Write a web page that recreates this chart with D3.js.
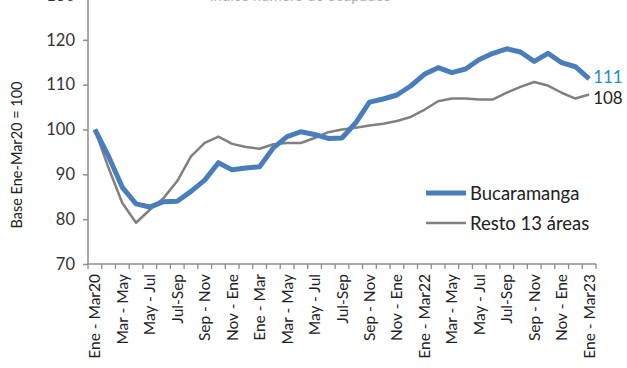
<!DOCTYPE html>
<html><head><meta charset="utf-8">
<script src="https://cdn.jsdelivr.net/npm/d3@7/dist/d3.min.js"></script>
<style>body{margin:0;background:#fff}svg{display:block}text{font-family:Lato,"Open Sans",sans-serif}</style>
</head><body><svg id="c" width="627" height="368"></svg>
<script>
const categories = ["Ene - Mar20","Feb-Abr","Mar - May","Abr-Jun","May - Jul","Jun-Ago","Jul-Sep","Ago-Oct","Sep - Nov","Oct-Dic","Nov - Ene","Dic-Feb",
"Ene - Mar","Feb-Abr21","Mar - May","Abr-Jun21","May - Jul","Jun-Ago21","Jul-Sep","Ago-Oct21","Sep - Nov","Oct-Dic21","Nov - Ene","Dic-Feb22",
"Ene - Mar22","Feb-Abr22","Mar - May","Abr-Jun22","May - Jul","Jun-Ago22","Jul-Sep","Ago-Oct22","Sep - Nov","Oct-Dic22","Nov - Ene","Dic-Feb23","Ene - Mar23"];
const bucaramanga = [100,94.0,87.1,83.4,82.7,83.9,84.0,86.2,88.7,92.6,91.0,91.4,91.7,95.9,98.4,99.5,98.9,98.0,98.1,101.5,106.1,106.8,107.7,109.7,112.3,113.8,112.7,113.5,115.6,117.0,118.0,117.3,115.2,117.0,114.9,114.0,111.3];
const resto13 = [100,91.4,83.6,79.2,82.1,84.7,88.5,94.0,97.0,98.4,96.8,96.1,95.7,96.7,97.0,97.0,98.1,99.4,100.0,100.4,100.9,101.3,101.9,102.8,104.4,106.3,106.9,106.9,106.7,106.7,108.2,109.5,110.6,109.8,108.2,106.9,107.8];
const yTicks = [70,80,90,100,110,120,130];
const seriesNames = ["Bucaramanga","Resto 13 áreas"];
const endLabels = ["111","108"];
const colors = ["#4a7ebb","#808080"];

const svg = d3.select("#c");
const x = d3.scaleBand().domain(d3.range(categories.length)).range([88,596]);
const y = d3.scaleLinear().domain([70,130]).range([264,-5]);
const cx = i => x(i) + x.bandwidth()/2;

// title (cropped at top, as in the reference)
svg.append("text").attr("x",300).attr("y",1).attr("text-anchor","middle")
  .attr("font-size",15).attr("fill","#b0b0b0").text("Índice número de ocupados");

// y axis
const ya = svg.append("g").attr("transform","translate(88,0)")
  .call(d3.axisLeft(y).tickValues(yTicks).tickSize(5).tickPadding(8));
ya.select(".domain").attr("d","M0,264V-10").attr("stroke","#8c8c8c").attr("stroke-width",1.5);
ya.selectAll(".tick line").attr("stroke","#8c8c8c").attr("stroke-width",1.5);
ya.selectAll(".tick text").attr("font-size",16.5).attr("fill","#333").style("font-family","Lato,'Open Sans',sans-serif");

// x axis
const xa = svg.append("g").attr("transform","translate(0,264)");
xa.append("line").attr("x1",88).attr("x2",596).attr("y1",0).attr("y2",0).attr("stroke","#8c8c8c").attr("stroke-width",1.5);
xa.selectAll(".tk").data(d3.range(categories.length+1)).join("line")
  .attr("x1",i=>x.step()*i+88).attr("x2",i=>x.step()*i+88).attr("y1",0).attr("y2",5)
  .attr("stroke","#8c8c8c").attr("stroke-width",1.3);
xa.selectAll(".lb").data(categories.map((c,i)=>({c,i})).filter(d=>d.i%2===0)).join("text")
  .attr("transform",d=>`translate(${cx(d.i)+5.5},10) rotate(-90)`)
  .attr("text-anchor","end").attr("font-size",15.5).attr("fill","#222").text(d=>d.c);

// y title
svg.append("text").attr("transform","translate(22,155) rotate(-90)").attr("text-anchor","middle")
  .attr("font-size",14.5).attr("fill","#222").text("Base Ene-Mar20 = 100");

// lines
const line = d3.line().x((d,i)=>cx(i)).y(d=>y(d));
svg.append("path").datum(resto13).attr("d",line).attr("fill","none").attr("stroke",colors[1]).attr("stroke-width",2.5).attr("stroke-linejoin","round");
svg.append("path").datum(bucaramanga).attr("d",line).attr("fill","none").attr("stroke",colors[0]).attr("stroke-width",5).attr("stroke-linejoin","round");

// end labels
const last = categories.length-1;
svg.append("text").attr("x",cx(last)+4).attr("y",y(bucaramanga[last])+4).attr("font-size",17).attr("fill","#1f8fc4").text(endLabels[0]);
svg.append("text").attr("x",cx(last)+4).attr("y",y(resto13[last])+9).attr("font-size",17).attr("fill","#222").text(endLabels[1]);

// legend
const lg = svg.append("g");
[0,1].forEach(k=>{
  const ly = 193 + k*30;
  lg.append("line").attr("x1",426).attr("x2",466).attr("y1",ly).attr("y2",ly)
    .attr("stroke",colors[k]).attr("stroke-width",k===0?5:2.5);
  lg.append("text").attr("x",470).attr("y",ly+6.5).attr("font-size",18.5).attr("fill","#222").text(seriesNames[k]);
});
</script></body></html>
